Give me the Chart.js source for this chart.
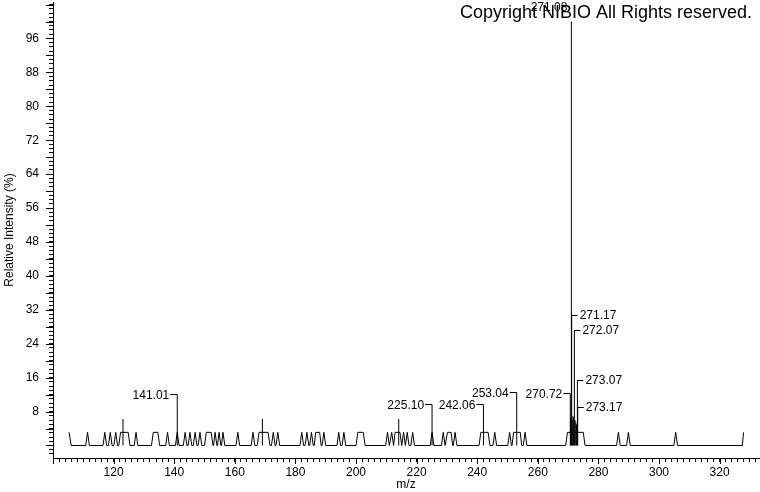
<!DOCTYPE html>
<html><head><meta charset="utf-8">
<script src="https://cdn.jsdelivr.net/npm/chart.js@4.4.1/dist/chart.umd.min.js"></script>
<style>html,body{margin:0;padding:0;background:#fff;}#wrap{width:760px;height:492px;}</style>
</head><body><div id="wrap"><canvas id="c" width="760" height="492"></canvas></div>
<script>
// Profile trace (m/z, relative intensity %)
const tracePoints = [
 [105.3,3.1],[106.0,0],
 [110.8,0],[111.4,3.1],[112.0,0],
 [116.5,0],[117.1,3.1],[117.7,0],
 [118.3,0],[118.9,3.1],[119.5,0],
 [120.1,0],[120.7,3.1],[121.3,0],
 [121.7,0],[122.3,3.1],[124.8,3.1],[125.4,0],
 [126.8,0],[127.4,3.1],[128.0,0],
 [132.5,0],[133.1,3.1],[134.6,3.1],[135.2,0],
 [137.2,0],[137.8,3.1],[138.4,0],
 [140.4,0],[141.0,3.1],[141.6,0],
 [143.0,0],[143.6,3.1],[144.2,0],
 [144.6,0],[145.2,3.1],[145.8,0],
 [146.3,0],[146.9,3.1],[147.5,0],
 [147.9,0],[148.5,3.1],[149.1,0],
 [150.0,0],[150.6,3.1],[152.2,3.1],[152.8,0],
 [153.0,0],[153.5,3.1],[154.1,0],
 [154.3,0],[154.8,3.1],[155.4,0],
 [155.6,0],[156.1,3.1],[156.7,0],
 [160.4,0],[161.0,3.1],[161.6,0],
 [165.4,0],[166.0,3.1],[166.6,0],
 [167.4,0],[168.0,3.1],[171.0,3.1],[171.6,0],
 [172.1,0],[172.7,3.1],[173.3,0],
 [173.6,0],[174.2,3.1],[174.8,0],
 [181.5,0],[182.1,3.1],[182.7,0],
 [183.2,0],[183.8,3.1],[184.4,0],
 [184.7,0],[185.3,3.1],[185.9,0],
 [186.2,0],[186.7,3.1],[188.0,3.1],[188.5,0],
 [188.8,0],[189.4,3.1],[190.0,0],
 [193.7,0],[194.3,3.1],[194.9,0],
 [195.4,0],[196.0,3.1],[196.6,0],
 [200.0,0],[200.6,3.1],[202.4,3.1],[203.0,0],
 [209.8,0],[210.4,3.1],[211.0,0],
 [211.2,0],[211.8,3.1],[212.4,0],[212.9,3.1],[214.5,3.1],[215.1,0],
 [215.7,3.1],[216.3,0],[216.9,3.1],[217.5,0],
 [218.1,0],[218.7,3.1],[219.3,0],
 [224.5,0],[225.1,3.1],[225.7,0],
 [228.2,0],[228.8,3.1],[229.4,0],
 [229.7,0],[230.2,3.1],[231.4,3.1],[231.9,0],
 [232.1,0],[232.7,3.1],[233.3,0],
 [240.6,0],[241.2,3.1],[243.6,3.1],[244.2,0],
 [245.2,0],[245.8,3.1],[246.4,0],
 [250.1,0],[250.7,3.1],[251.3,0],
 [251.5,0],[252.0,3.1],[254.2,3.1],[254.7,0],
 [255.2,0],[255.8,3.1],[256.4,0],
 [269.2,0],[269.8,3.1],[275.0,3.1],[275.6,0],
 [286.0,0],[286.6,3.1],[287.2,0],
 [289.3,0],[289.9,3.1],[290.5,0],
 [304.9,0],[305.5,3.1],[306.1,0],
 [327.5,0],[327.9,3.1]
];

// Centroid peaks (stick lines)
const peakMz  = [123.1, 141.01, 169.1, 214.1, 225.10, 242.06, 253.04, 270.72, 270.85, 271.08, 271.17, 271.3, 271.55, 271.8, 272.07, 272.3, 272.55, 272.8, 273.07, 273.17];
const peakInt = [6.25,  9.15,   6.25,  6.25,  6.25,   3.1,    3.1,    12.1,   6.5,    100,    30.8,   7.0,   6.0,    6.8,   27.2,   6.0,   5.5,    5.0,   15.4,   9.15];

// Labelled peaks
const labelMz = [141.01, 225.10, 242.06, 253.04, 270.72, 271.08, 271.17, 272.07, 273.07, 273.17];

// Tick labels
const xTickLabels = [120, 140, 160, 180, 200, 220, 240, 260, 280, 300, 320];
const yTickLabels = [8, 16, 24, 32, 40, 48, 56, 64, 72, 80, 88, 96];

// Label placement (layout, not data): side and height (in % units) of each label
const labelPlace = [
 ['left', 12.0], ['left', 9.55], ['left', 9.55], ['left', 12.3], ['left', 12.1],
 ['top', 103.4], ['right', 30.8], ['right', 27.2], ['right', 15.4], ['right', 9.15]
];

const FONT = '"Liberation Sans", Arial, sans-serif';

const traceData = tracePoints.map(p => ({x: p[0], y: p[1]}));
const stickData = [];
peakMz.forEach((m, i) => {
  stickData.push({x: m, y: 0}, {x: m, y: peakInt[i]}, {x: m, y: null});
});

const annot = {
  id: 'annot',
  afterDatasetsDraw(chart) {
    const {ctx, scales: {x, y}} = chart;
    ctx.save();
    ctx.strokeStyle = '#000'; ctx.fillStyle = '#000'; ctx.lineWidth = 1;
    ctx.font = '12px ' + FONT;
    ctx.textBaseline = 'middle';
    labelMz.forEach((m, i) => {
      const [side, level] = labelPlace[i];
      const px = x.getPixelForValue(m);
      const h = peakInt[peakMz.indexOf(m)];
      const top = y.getPixelForValue(h);
      const ly = Math.round(y.getPixelForValue(level)) + 0.5;
      const txt = m.toFixed(2);
      if (side === 'left') {
        ctx.beginPath();
        ctx.moveTo(px - 7, ly - 1); ctx.lineTo(px, ly - 1); ctx.lineTo(px, top);
        ctx.stroke();
        ctx.textAlign = 'right';
        ctx.fillText(txt, px - 8, ly);
      } else if (side === 'right') {
        ctx.beginPath();
        ctx.moveTo(px, ly); ctx.lineTo(px + 6, ly);
        if (top > ly) { ctx.moveTo(px, ly); ctx.lineTo(px, top); }
        ctx.stroke();
        ctx.textAlign = 'left';
        ctx.fillText(txt, px + 8, ly);
      } else {
        ctx.textAlign = 'right';
        ctx.fillText(txt, px - 4, ly);
      }
    });
    ctx.restore();
  },
  afterDraw(chart) {
    const {ctx, scales: {x, y}, chartArea} = chart;
    ctx.save();
    ctx.strokeStyle = '#000'; ctx.lineWidth = 1;
    ctx.beginPath();
    x.ticks.forEach(t => {
      if (t.value % 20 === 0) {
        const px = Math.round(x.getPixelForValue(t.value)) + 0.5;
        ctx.moveTo(px, chartArea.bottom); ctx.lineTo(px, chartArea.bottom + 6);
      }
    });
    y.ticks.forEach(t => {
      if (t.value % 4 === 0) {
        const py = Math.round(y.getPixelForValue(t.value)) + 0.5;
        ctx.moveTo(chartArea.left - 7, py); ctx.lineTo(chartArea.left, py);
      }
    });
    ctx.stroke();
    ctx.fillStyle = '#000';
    ctx.font = '18px ' + FONT;
    ctx.textAlign = 'right'; ctx.textBaseline = 'middle';
    ctx.fillText('Copyright NIBIO All Rights reserved.', 752, 13);
    ctx.restore();
  }
};

function noPad(s) { s.paddingTop = 0; s.paddingBottom = 0; s.paddingLeft = 0; s.paddingRight = 0; }

new Chart(document.getElementById('c'), {
  type: 'line',
  data: {
    datasets: [
      {data: traceData, borderColor: '#000', borderWidth: 1, pointRadius: 0, tension: 0, fill: false},
      {data: stickData, borderColor: '#000', borderWidth: 1, pointRadius: 0, tension: 0, fill: false, spanGaps: false}
    ]
  },
  options: {
    responsive: false, animation: false, devicePixelRatio: 1,
    layout: {padding: {top: 2, right: 1, left: 0, bottom: 0}},
    plugins: {legend: {display: false}, tooltip: {enabled: false}},
    scales: {
      x: {
        type: 'linear', min: 100, max: 333,
        afterFit(s) { s.height = 34; noPad(s); },
        grid: {drawOnChartArea: false, tickLength: 4, tickColor: '#000', tickWidth: 1},
        border: {display: true, color: '#000', width: 1},
        ticks: {stepSize: 2, autoSkip: false, maxRotation: 0, minRotation: 0, includeBounds: false,
                padding: 3, color: '#000', font: {family: FONT, size: 12},
                callback: v => xTickLabels.includes(v) ? String(v) : ''},
        title: {display: true, text: 'm/z', color: '#000', font: {family: FONT, size: 12}, padding: 0}
      },
      y: {
        type: 'linear', min: -2.95, max: 104.6,
        afterFit(s) { s.width = 53; noPad(s); },
        grid: {drawOnChartArea: false, tickLength: 4, tickColor: '#000', tickWidth: 1},
        border: {display: true, color: '#000', width: 1},
        ticks: {stepSize: 1, autoSkip: false, includeBounds: false, padding: 10, color: '#000',
                font: {family: FONT, size: 12},
                callback: v => yTickLabels.includes(v) ? String(v) : ''},
        title: {display: true, text: 'Relative Intensity (%)', color: '#000', font: {family: FONT, size: 12}, padding: {top: 2, bottom: 0}}
      }
    }
  },
  plugins: [annot]
});
</script>
</body></html>
